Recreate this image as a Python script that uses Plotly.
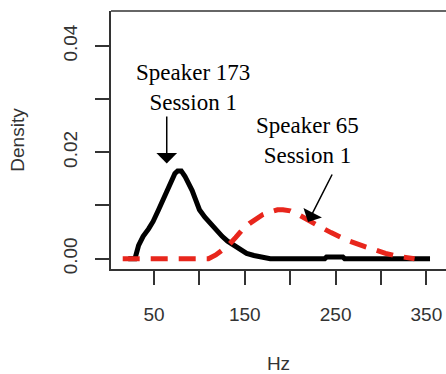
import plotly.graph_objects as go

# Speaker 173, Session 1 (black solid)
hz_173 = [21.6, 29, 33, 38, 44, 49, 55, 60, 64, 68, 73, 76, 80, 84, 88, 92, 96, 100,
          106, 112, 119, 125, 131, 137, 145, 152, 160, 167, 178, 238, 240, 258, 260, 354]
dens_173 = [0, 0, 0.0025, 0.0042, 0.0056, 0.0070, 0.0092, 0.0110, 0.0126, 0.0140, 0.0160,
            0.0165, 0.0165, 0.0155, 0.0142, 0.0128, 0.0110, 0.0092, 0.0078, 0.0066, 0.0052,
            0.0042, 0.0033, 0.0026, 0.0016, 0.0010, 0.0006, 0.0004, 0.0, 0.0, 0.0003, 0.0003,
            0.0, 0.0]

# Speaker 65, Session 1 (red dashed)
hz_65 = [15.5, 110, 118, 125, 132, 140, 148, 155, 162, 170, 178, 186, 192, 200, 208, 216,
         225, 235, 245, 255, 265, 280, 292, 305, 317, 327, 337]
dens_65 = [0, 0, 0.0007, 0.0016, 0.0025, 0.0040, 0.0056, 0.0066, 0.0074, 0.0083, 0.0088,
           0.0092, 0.0092, 0.0090, 0.0084, 0.0077, 0.0068, 0.0058, 0.0049, 0.0041, 0.0033,
           0.0024, 0.0017, 0.0010, 0.0005, 0.0002, 0.0]

x_ticks = [50, 100, 150, 200, 250, 300, 350]
x_labels = ["50", "", "150", "", "250", "", "350"]
y_ticks = [0.0, 0.01, 0.02, 0.03, 0.04]
y_labels = ["0.00", "", "0.02", "", "0.04"]

fig = go.Figure()
fig.add_trace(go.Scatter(x=hz_173, y=dens_173, mode="lines",
                         line=dict(color="black", width=5), showlegend=False))
fig.add_trace(go.Scatter(x=hz_65, y=dens_65, mode="lines",
                         line=dict(color="rgb(232,38,28)", width=5, dash="17px,11px"),
                         showlegend=False))

tick_font = dict(family="Liberation Sans, Arial", size=19, color="#333")
fig.update_layout(
    width=446, height=374,
    margin=dict(l=111, r=0, t=11, b=105),
    paper_bgcolor="white", plot_bgcolor="white",
    xaxis=dict(range=[2.6, 371.6], tickvals=x_ticks, ticktext=x_labels,
               showgrid=False, zeroline=False, showline=True, linecolor="#333",
               linewidth=1.5, ticks="outside", ticklen=14, tickwidth=1.5,
               tickcolor="#333", tickfont=tick_font, ticklabelstandoff=13,
               title=dict(text="Hz", font=tick_font, standoff=34)),
    yaxis=dict(range=[-0.00194, 0.04656], tickvals=y_ticks, ticktext=y_labels,
               showgrid=False, zeroline=False, showline=True, linecolor="#333",
               linewidth=1.5, ticks="outside", ticklen=14, tickwidth=1.5,
               tickcolor="#333", tickfont=tick_font, tickangle=-90,
               ticklabelstandoff=11,
               title=dict(text="Density", font=tick_font, standoff=30)),
    shapes=[dict(type="line", xref="paper", yref="paper", x0=0, x1=1, y0=1, y1=1,
                 line=dict(color="#333", width=1.5))],
)

ann_font = dict(family="Liberation Serif, Times New Roman", size=23, color="black")
fig.add_annotation(x=93, y=0.0321, text="Speaker 173<br>Session 1", showarrow=False,
                   font=ann_font, align="center")
fig.add_annotation(x=218.8, y=0.0222, text="Speaker 65<br>Session 1", showarrow=False,
                   font=ann_font, align="center")
fig.add_annotation(x=64, y=0.0179, ax=64, ay=0.0270, axref="x", ayref="y",
                   text="", showarrow=True, arrowhead=1, arrowsize=2.3,
                   arrowwidth=1.5, arrowcolor="black")
fig.add_annotation(x=219.6, y=0.0069, ax=247, ay=0.0161, axref="x", ayref="y",
                   text="", showarrow=True, arrowhead=1, arrowsize=2.3,
                   arrowwidth=1.5, arrowcolor="black")

fig.write_html("out.html")
